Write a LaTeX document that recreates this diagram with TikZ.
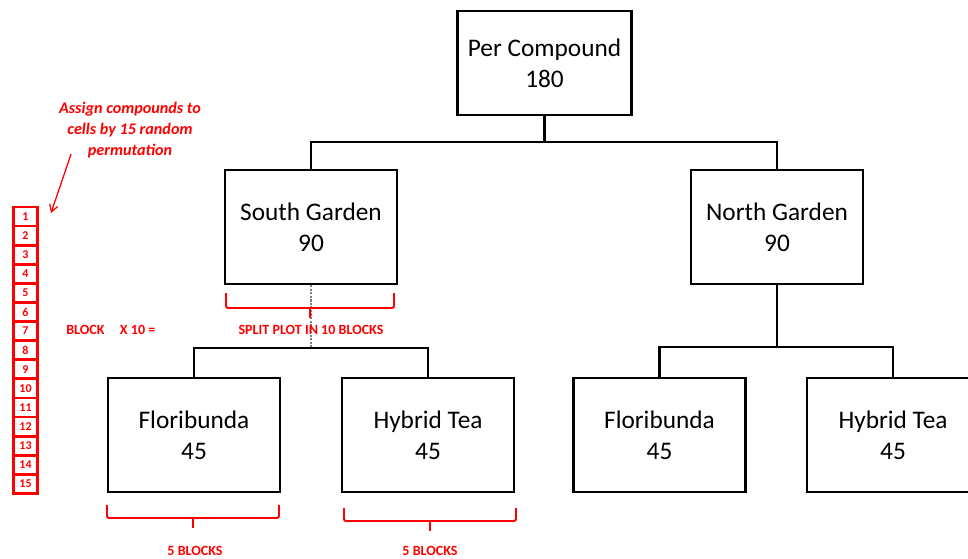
\documentclass[tikz,border=0pt]{standalone}
\usepackage{fontspec}
\setmainfont{Carlito}
\usetikzlibrary{arrows.meta}
\usetikzlibrary{calc}

\tikzset{
  plotbox/.style={draw, line width=1.9pt, minimum width=4.3cm, minimum height=2.85cm, align=center, font=\fontsize{18}{22}\selectfont},
  link/.style={line width=1.5pt},
  redbrace/.style={draw=red, line width=1.4pt, rounded corners=1.5pt},
  redlabel/.style={text=red, font=\bfseries\fontsize{10}{12}\selectfont},
  cell/.style={draw=red, line width=2pt, minimum width=0.6cm, minimum height=0.478cm, inner sep=0pt, text=red, font=\bfseries\fontsize{8.5}{10}\selectfont},
}

\begin{document}
\begin{tikzpicture}[x=0.025cm, y=-0.025cm]
                \useasboundingbox (0,0) rectangle (968,559);
                % tree of plots
                \node[plotbox, minimum width=4.35cm, minimum height=2.6cm] (pc) at (544.5,63) {Per Compound\\180};
                \node[plotbox] (sg) at (311,227) {South Garden\\90};
                \node[plotbox] (ng) at (777,227) {North Garden\\90};
                \node[plotbox] (fl1) at (194,435) {Floribunda\\45};
                \node[plotbox] (ht1) at (428,435) {Hybrid Tea\\45};
                \node[plotbox] (fl2) at (659.5,435) {Floribunda\\45};
                \node[plotbox] (ht2) at (893,435) {Hybrid Tea\\45};
                \draw[link] (pc.south) -- ++(0,26) coordinate (pcj);
                \draw[link] (sg.north) |- (pcj) -| (ng.north);
                \coordinate (sgj) at (311,348);
                \draw[gray, dashed, line width=0.8pt, dash pattern=on 1.5pt off 1pt] (sg.south) -- (sgj);
                \draw[link] (fl1.north) |- (sgj) -| (ht1.north);
                \draw[link] (ng.south) -- ++(0,62) coordinate (ngj);
                \draw[link] (fl2.north) |- (ngj) -| (ht2.north);
                % blocks
                \draw[redbrace] (226,293) -- (226,308) -- (394,308) -- (394,293);
                \draw[redbrace] (310,308) -- (310,318);
                \node[redlabel] (split) at (311,330) {SPLIT PLOT IN 10 BLOCKS};
                \draw[redbrace] (107,505) -- (107,518) -- (279,518) -- (279,505);
                \draw[redbrace] (193,518) -- (193,528);
                \node[redlabel] (five1) at (195,551) {5 BLOCKS};
                \draw[redbrace] (344,508) -- (344,521) -- (516,521) -- (516,508);
                \draw[redbrace] (430,521) -- (430,531);
                \node[redlabel] (five2) at (430,551) {5 BLOCKS};
                \node[redlabel, anchor=west, inner sep=0pt] (times) at (66,330) {BLOCK\hspace{11pt}X 10 =};
                % cells
                \foreach \i in {1,...,15}
                    \node[cell] (c\i) at (25.5,216.5+19.1*\i-19.1) {\i};
                \node[text=red, align=center, font=\bfseries\itshape\fontsize{11.5}{15}\selectfont] (note) at (130,130) {Assign compounds to\\cells by 15 random\\permutation};
                \coordinate (tip) at (51,213);
                \draw[red, line width=0.9pt, -{Straight Barb[length=5pt,width=6pt]}] ($(note.south west)+(17,-9)$) -- (tip);
            \end{tikzpicture}
\end{document}
